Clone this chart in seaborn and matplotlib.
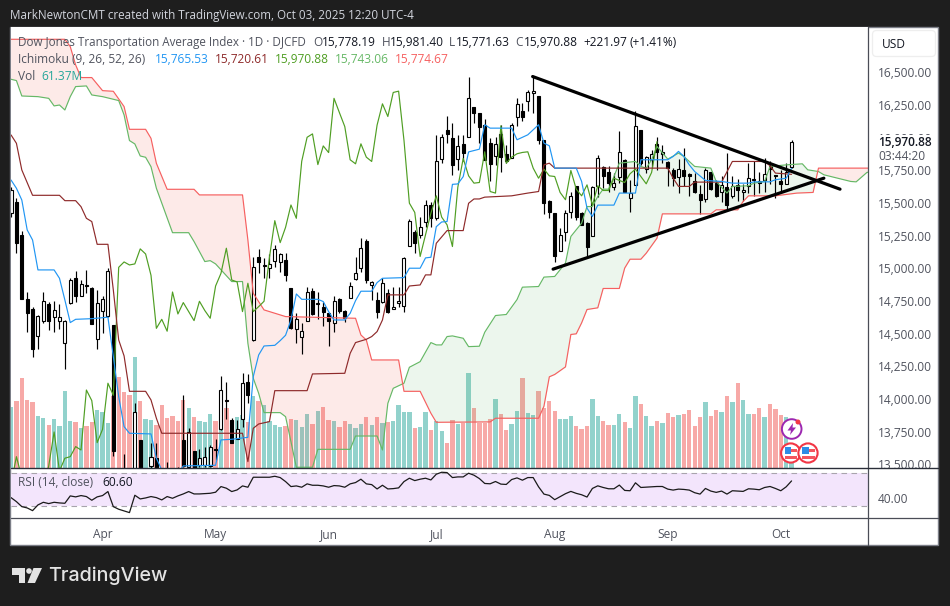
import numpy as np
import pandas as pd
import seaborn as sns
import matplotlib.pyplot as plt
from matplotlib.patches import Circle, FancyBboxPatch, Polygon, Rectangle

# candles, one per trading day
opens = [
    15427, 15511, 15260, 14764, 14688, 14484, 14601, 14729, 14627, 14601,
    14433, 14734, 14925, 14790, 14871, 14851, 14463, 14678, 14637, 14568,
    13440, 13300, 13100, 13100, 13688, 13200, 13489, 13550, 13380, 13300,
    13350, 13400, 13688, 13484, 13601, 13497, 13494, 13489, 13616, 13769,
    13994, 13841, 13698, 13851, 14132, 14453, 15086, 15022, 15000, 15060,
    15053, 15065, 14849, 14535, 14479, 14601, 14826, 14729, 14708, 14657,
    14581, 14764, 14673, 14772, 14917, 15004, 15211, 14871, 14759, 14747,
    14810, 14688, 14739, 14713, 15173, 15282, 15257, 15359, 15486, 15384,
    15841, 16060, 15996, 15836, 15953, 16004, 16234, 16188, 16100, 15959,
    15862, 16031, 15878, 15842, 16158, 16202, 16278, 16342, 16321, 15980,
    15515, 15423, 15133, 15281, 15436, 15633, 15423, 15347, 15245, 15633,
    15776, 15742, 15622, 15699, 15832, 15538, 15638, 16061, 15760, 15832,
    15954, 15873, 15816, 15755, 15699, 15755, 15725, 15666, 15571, 15531,
    15735, 15653, 15589, 15622, 15551, 15638, 15587, 15628, 15684, 15663,
    15679, 15786, 15709, 15666, 15648, 15778.19,
]
highs = [
    15626, 15537, 15285, 14818, 14703, 14644, 14820, 14747, 14754, 14729,
    14606, 14925, 14979, 14912, 14989, 14856, 14836, 14790, 15004, 14568,
    13470, 13581, 13250, 13968, 13688, 13400, 13662, 13662, 13440, 13520,
    13450, 13480, 14032, 13777, 13601, 13616, 13632, 13650, 13693, 14178,
    14132, 13854, 13841, 14198, 14193, 15086, 15147, 15078, 15111, 15180,
    15116, 15122, 14849, 14657, 14581, 14856, 14849, 14823, 14747, 14662,
    14790, 14772, 14683, 14900, 15086, 15231, 15224, 14907, 14823, 14925,
    14846, 14861, 14856, 15086, 15376, 15295, 15397, 15524, 15512, 16022,
    16030, 16167, 16111, 16022, 16022, 16463, 16239, 16188, 16143, 15997,
    16005, 16100, 15947, 16112, 16304, 16265, 16367, 16475, 16321, 15985,
    15526, 15423, 15309, 15444, 15589, 15633, 15429, 15352, 15633, 15870,
    15781, 15786, 15730, 16049, 15837, 15679, 16209, 16061, 15857, 15908,
    16005, 15947, 15819, 15768, 15837, 15921, 15730, 15730, 15640, 15768,
    15742, 15674, 15704, 15883, 15704, 15684, 15648, 15806, 15819, 15735,
    15844, 15819, 15717, 15755, 15806, 15981.40,
]
lows = [
    15397, 15116, 14764, 14517, 14326, 14387, 14581, 14530, 14517, 14540,
    14234, 14729, 14747, 14790, 14815, 14576, 14387, 14504, 14627, 13565,
    13050, 12950, 12700, 13050, 13150, 13050, 13450, 13300, 13150, 13200,
    13250, 13300, 13480, 13470, 13430, 13480, 13480, 13480, 13535, 13764,
    13851, 13662, 13698, 13790, 13974, 14448, 14968, 14925, 14925, 15014,
    14976, 14907, 14535, 14428, 14346, 14601, 14644, 14611, 14560, 14407,
    14517, 14657, 14593, 14772, 14912, 14976, 14892, 14759, 14622, 14739,
    14662, 14688, 14703, 14670, 15173, 15122, 15230, 15315, 15320, 15371,
    15810, 15958, 15716, 15754, 15825, 16004, 16116, 15958, 15832, 15666,
    15793, 15735, 15811, 15842, 16087, 16125, 16209, 16189, 15954, 15418,
    15383, 15046, 15130, 15207, 15385, 15372, 15329, 15092, 15245, 15546,
    15615, 15582, 15602, 15658, 15589, 15436, 15638, 15793, 15730, 15768,
    15750, 15806, 15628, 15628, 15577, 15628, 15551, 15577, 15418, 15505,
    15597, 15546, 15505, 15449, 15538, 15520, 15513, 15577, 15551, 15577,
    15582, 15648, 15541, 15589, 15648, 15771.63,
]
closes = [
    15601, 15193, 14764, 14657, 14382, 14637, 14749, 14601, 14683, 14627,
    14601, 14912, 14790, 14882, 14866, 14576, 14734, 14764, 14984, 13606,
    13120, 13000, 12800, 13902, 13250, 13350, 13560, 13400, 13200, 13250,
    13300, 13320, 13489, 13749, 13450, 13548, 13560, 13637, 13611, 14070,
    13989, 13667, 13769, 14122, 14030, 15009, 15050, 15027, 15035, 15150,
    15111, 14948, 14542, 14611, 14520, 14820, 14652, 14739, 14670, 14601,
    14749, 14678, 14619, 14866, 14963, 15155, 14912, 14897, 14670, 14887,
    14670, 14708, 14749, 15083, 15366, 15198, 15315, 15486, 15384, 15820,
    16004, 16030, 15795, 15938, 15887, 16302, 16193, 16086, 15832, 15801,
    15954, 15852, 15819, 16097, 16260, 16163, 16347, 16357, 15980, 15500,
    15429, 15092, 15258, 15423, 15556, 15393, 15334, 15168, 15622, 15842,
    15709, 15653, 15658, 15893, 15589, 15577, 16092, 15806, 15852, 15878,
    15888, 15893, 15768, 15691, 15760, 15709, 15704, 15582, 15526, 15750,
    15607, 15556, 15640, 15485, 15633, 15597, 15597, 15691, 15674, 15658,
    15725, 15760, 15704, 15648, 15735, 15970.88,
]
volume = [
    73.5, 80.8, 107.9, 81.6, 79.2, 62.2, 59.8, 51.3, 58.6, 50.1,
    92.5, 56.2, 54.9, 47.7, 50.1, 54.9, 69.5, 67.1, 53.7, 86.5,
    109.9, 91.3, 87.7, 134.1, 80.4, 58.6, 57.4, 51.3, 75.6, 59.4,
    62.2, 56.2, 81.6, 71.9, 61.0, 56.2, 54.9, 64.6, 56.2, 56.2,
    71.9, 56.2, 61.4, 63.0, 54.9, 86.5, 80.4, 75.6, 56.2, 51.3,
    49.3, 50.1, 58.6, 57.4, 49.3, 64.6, 52.5, 68.3, 73.1, 57.4,
    56.2, 48.9, 56.2, 52.5, 47.7, 52.5, 61.0, 51.3, 61.0, 53.7,
    54.9, 56.2, 75.6, 67.1, 67.1, 47.7, 48.9, 67.1, 45.2, 55.8,
    44.0, 29.9, 57.4, 52.9, 53.7, 114.3, 72.3, 53.7, 53.7, 59.0,
    83.2, 65.0, 45.7, 52.9, 68.7, 108.7, 66.3, 63.8, 92.9, 72.3,
    80.8, 68.7, 59.0, 59.0, 62.6, 50.5, 46.9, 50.5, 83.2, 62.6,
    56.6, 51.7, 51.7, 65.0, 55.3, 48.1, 86.9, 77.2, 62.6, 50.5,
    56.6, 54.1, 66.3, 61.4, 63.8, 65.0, 69.9, 50.5, 61.4, 79.6,
    62.6, 69.9, 67.5, 86.9, 79.6, 102.6, 82.0, 65.0, 65.0, 72.3,
    61.4, 77.2, 71.1, 63.8, 61.4, 9.7,
]
rsi = [
    40.2, 35.3, 29.2, 27.6, 24.3, 31.3, 34.5, 32.9, 34.5, 33.7,
    33.3, 42.3, 41.1, 42.7, 41.5, 37.0, 41.1, 42.7, 47.6, 29.2,
    26.0, 23.9, 21.9, 43.1, 38.6, 39.8, 41.5, 40.2, 37.4, 41.5,
    39.4, 42.3, 44.7, 47.6, 44.7, 44.7, 45.1, 45.5, 46.8, 53.7,
    51.7, 47.6, 49.6, 54.5, 52.9, 65.1, 65.1, 65.1, 65.1, 66.3,
    64.7, 59.8, 53.7, 54.5, 52.9, 57.0, 55.3, 55.3, 54.5, 52.9,
    54.9, 54.5, 52.9, 57.0, 58.6, 62.7, 57.0, 56.1, 50.8, 55.3,
    50.8, 51.2, 52.1, 59.8, 63.9, 61.0, 62.7, 63.9, 61.8, 68.8,
    71.2, 70.8, 64.7, 65.5, 65.5, 70.0, 67.6, 63.5, 57.5, 57.1,
    59.9, 56.7, 56.3, 62.3, 64.3, 61.5, 64.7, 64.7, 53.4, 44.5,
    42.9, 37.7, 41.3, 45.0, 47.8, 45.4, 43.7, 40.9, 51.4, 54.6,
    52.6, 51.0, 51.0, 55.5, 49.0, 48.6, 58.3, 52.6, 53.0, 53.4,
    53.8, 53.8, 50.6, 49.4, 50.6, 50.2, 49.4, 46.2, 44.5, 51.4,
    48.2, 46.6, 48.2, 44.5, 48.6, 48.2, 47.8, 51.0, 50.6, 49.8,
    52.6, 53.8, 51.4, 48.6, 53.4, 60.6,
]

# ichimoku lines, as the bars where they change direction
tenkan_x = [
    0, 1, 2, 3, 4, 5, 8, 9, 10, 11, 12, 15, 18, 19, 20, 21, 22, 26, 27, 28, 31,
    32, 38, 39, 41, 44, 45, 46, 47, 49, 50, 51, 52, 53, 54, 57, 58, 59, 60, 62,
    63, 64, 65, 67, 68, 69, 73, 74, 76, 77, 78, 79, 80, 81, 82, 83, 84, 85, 87,
    88, 89, 93, 94, 96, 98, 99, 100, 101, 105, 106, 107, 108, 109, 112, 113,
    116, 117, 122, 123, 124, 125, 126, 127, 129, 132, 134, 137, 138, 141, 142,
    144, 145,
]
tenkan_y = [
    15677, 15614, 15524, 15295, 15218, 14989, 14989, 14925, 14759, 14586,
    14611, 14616, 14627, 14326, 14019, 13790, 13739, 13734, 13548, 13458,
    13433, 13489, 13494, 13688, 13693, 13708, 14173, 14338, 14407, 14412,
    14448, 14489, 14606, 14805, 14764, 14764, 14747, 14670, 14606, 14606,
    14657, 14754, 14826, 14826, 14892, 14925, 14930, 15002, 15002, 15081,
    15086, 15320, 15356, 15359, 15644, 15647, 15703, 15892, 15913, 16100,
    16074, 16074, 15985, 16023, 16100, 15959, 15939, 15768, 15768, 15666,
    15462, 15398, 15485, 15485, 15577, 15577, 15832, 15832, 15857, 15896,
    15857, 15793, 15742, 15674, 15666, 15653, 15653, 15663, 15663, 15679,
    15691, 15765.53,
]
kijun_x = [
    0, 1, 2, 4, 9, 10, 12, 13, 14, 15, 16, 18, 19, 20, 21, 22, 25, 26, 27, 28,
    43, 44, 45, 46, 48, 49, 55, 56, 62, 63, 64, 66, 67, 68, 69, 70, 73, 74, 76,
    77, 78, 79, 81, 84, 85, 86, 87, 88, 93, 96, 98, 99, 100, 101, 122, 123,
    124, 126, 127, 132, 134, 140, 141, 142, 145,
]
kijun_y = [
    16022, 15958, 15754, 15560, 15560, 15519, 15519, 15473, 15384, 15359,
    15185, 15185, 14836, 14453, 14331, 14060, 14060, 13994, 13854, 13739,
    13739, 13522, 13777, 13810, 13828, 14065, 14065, 14193, 14198, 14351,
    14433, 14458, 14479, 14517, 14606, 14798, 14798, 14866, 14874, 14951,
    14951, 15193, 15290, 15290, 15499, 15532, 15532, 15546, 15556, 15577,
    15589, 15793, 15806, 15768, 15768, 15691, 15628, 15628, 15661, 15661,
    15819, 15819, 15786, 15730, 15720.61,
]
span_a_x = [
    0, 1, 2, 5, 7, 8, 9, 10, 11, 12, 14, 15, 17, 19, 20, 21, 22, 23, 24, 25,
    26, 27, 30, 33, 34, 36, 37, 38, 41, 43, 44, 45, 46, 47, 50, 51, 52, 53, 56,
    57, 63, 64, 68, 69, 70, 71, 73, 74, 76, 78, 79, 80, 81, 82, 84, 85, 87, 88,
    90, 92, 94, 95, 98, 99, 101, 103, 104, 105, 106, 107, 108, 109, 110, 111,
    112, 113, 116, 117, 118, 119, 120, 122, 124, 125, 127, 130, 131, 133, 134,
    137, 138, 140, 141, 144, 147, 148, 150, 151, 156, 157, 159, 160,
]
span_a_y = [
    16448, 16438, 16320, 16315, 16302, 16244, 16251, 16213, 16315, 16392,
    16397, 16328, 16315, 16295, 16285, 16175, 15979, 15953, 15861, 15851,
    15779, 15614, 15274, 15274, 15206, 15053, 15060, 15035, 14900, 14900,
    14428, 14160, 14045, 13897, 13897, 13866, 13675, 13479, 13479, 13616,
    13616, 13718, 13718, 13611, 13968, 14083, 14122, 14244, 14287, 14433,
    14415, 14415, 14479, 14484, 14466, 14402, 14405, 14512, 14640, 14648,
    14762, 14857, 14862, 14934, 14939, 15041, 15245, 15296, 15347, 15474,
    15474, 15551, 15607, 15607, 15704, 15806, 15819, 15781, 15768, 15832,
    15934, 15837, 15883, 15857, 15781, 15768, 15666, 15577, 15628, 15633,
    15653, 15666, 15781, 15793, 15801, 15755, 15742, 15717, 15666, 15663,
    15735, 15743,
]
span_b_x = [
    0, 10, 11, 12, 13, 15, 17, 19, 21, 22, 25, 26, 27, 29, 34, 35, 43, 44, 45,
    47, 51, 64, 65, 66, 67, 72, 73, 76, 78, 79, 89, 90, 98, 99, 100, 101, 103,
    104, 105, 106, 107, 109, 110, 113, 114, 115, 117, 118, 120, 121, 130, 131,
    135, 136, 137, 142, 146, 149, 150, 170,
]
span_b_y = [
    16754, 16754, 16698, 16558, 16461, 16461, 16361, 16356, 16239, 16065,
    16065, 15996, 15805, 15606, 15606, 15563, 15563, 15218, 14810, 14683,
    14632, 14619, 14491, 14453, 14300, 14300, 14060, 14060, 13892, 13823,
    13826, 13854, 13854, 13946, 14171, 14189, 14247, 14495, 14500, 14584,
    14686, 14699, 14847, 14847, 15003, 15071, 15071, 15117, 15232, 15418,
    15418, 15449, 15449, 15513, 15556, 15556, 15577, 15582, 15768, 15768,
]
# hand drawn triangle on the chart
upper_x = [96.9, 154]
upper_y = [16469, 15607]
lower_x = [100.7, 151]
lower_y = [14995, 15691]

price_ticks = [13500, 13750, 14000, 14250, 14500, 14750, 15000, 15250,
               15500, 15750, 16000, 16250, 16500]
month_bars = [17, 38, 59, 79, 101, 122, 143]
month_names = ["Apr", "May", "Jun", "Jul", "Aug", "Sep", "Oct"]

W, H = 950, 606
BG = "#1e1e1e"
GREY = "#50535e"
BLUE = "#2196f3"
DARK_RED = "#8e2a2a"
OLIVE = "#4f9e23"
GREEN = "#66b866"
RED = "#f66060"
TEAL = "#26a69a"
VOL_UP = "#92d2cc"
VOL_DOWN = "#f7a9a7"


def rect(l, t, r, b):
    return [l / W, 1 - b / H, (r - l) / W, (b - t) / H]


def label(x, y, s, color=GREY, size=8.6, **kw):
    top.text(x, y, s, color=color, fontsize=size, va="center", **kw)


sns.set_theme(style="white")
plt.rcParams["font.family"] = ["Open Sans", "DejaVu Sans"]

df = pd.DataFrame({"open": opens, "high": highs, "low": lows, "close": closes,
                   "volume": volume, "rsi": rsi})
df["bar"] = df.index
df["up"] = df["close"] >= df["open"]
# lagging span is the close moved back, 25 bars on this chart
df["chikou"] = df["close"].shift(-25)

fig = plt.figure(figsize=(W / 100, H / 100), dpi=100, facecolor=BG)

back = fig.add_axes([0, 0, 1, 1], zorder=0)
back.set_xlim(0, W)
back.set_ylim(H, 0)
back.axis("off")
back.add_patch(Rectangle((10, 27), 928, 518, fc="white", ec="#7b7e87", lw=1))

vol_ax = fig.add_axes(rect(10.5, 27, 868, 467.5), zorder=1)
ax = vol_ax.twinx()
ax.set_zorder(2)
ax.patch.set_visible(False)

# volume sits under everything, coloured bar by bar after the call
sns.barplot(data=df, x="bar", y="volume", native_scale=True, width=0.8, color=VOL_UP,
            saturation=1, ax=vol_ax)
for patch, up in zip(vol_ax.patches, df["up"]):
    patch.set_facecolor(VOL_UP if up else VOL_DOWN)
    patch.set_linewidth(0)
vol_ax.set_ylim(0, 533)
vol_ax.set_yticks([])
vol_ax.set_xlabel("")
vol_ax.set_ylabel("")
vol_ax.tick_params(bottom=False, labelbottom=False)

# cloud
grid = np.arange(0, 170.25, 0.25)
a = np.interp(grid, span_a_x, span_a_y)
b = np.interp(grid, span_b_x, span_b_y)
ax.fill_between(grid, a, b, where=a >= b, color="#4caf50", alpha=0.10, lw=0, interpolate=True, zorder=1)
ax.fill_between(grid, a, b, where=a < b, color="#f44336", alpha=0.11, lw=0, interpolate=True, zorder=1)

# candles
ax.vlines(df["bar"], df["low"], df["high"], color="black", lw=0.85, zorder=2)
ax.bar(df["bar"], (df["close"] - df["open"]).abs().clip(lower=8), bottom=df[["open", "close"]].min(axis=1),
       width=0.56, color=["white" if u else "black" for u in df["up"]], edgecolor="black", lw=0.8, zorder=3)

for xs, ys, col in [(span_a_x, span_a_y, GREEN), (span_b_x, span_b_y, RED),
                    (df["bar"], df["chikou"], OLIVE),
                    (kijun_x, kijun_y, DARK_RED), (tenkan_x, tenkan_y, BLUE)]:
    sns.lineplot(x=xs, y=ys, color=col, lw=0.85, estimator=None, sort=False, ax=ax, zorder=4)

sns.lineplot(x=upper_x, y=upper_y, color="black", lw=2.3, estimator=None, ax=ax, zorder=5)
sns.lineplot(x=lower_x, y=lower_y, color="black", lw=2.3, estimator=None, ax=ax, zorder=5)

ax.set_xlim(-0.1, 159.2)
ax.set_ylim(13477, 16848)
ax.set_yticks(price_ticks)
ax.set_yticklabels([f"{t:,.2f}" for t in price_ticks], color=GREY, fontsize=8.6)
ax.tick_params(axis="y", length=0, pad=7)
ax.set_xlabel("")
ax.set_ylabel("")
for a_ in (ax, vol_ax):
    for s in a_.spines.values():
        s.set_visible(False)

# rsi pane
rsi_ax = fig.add_axes(rect(10.5, 467.5, 868, 518), zorder=3)
rsi_ax.patch.set_visible(False)
rsi_ax.axhspan(30, 70, color="#f3e5fc", lw=0)
rsi_ax.axhline(70, color="#a8a4ac", lw=0.8, ls=(0, (5, 4)))
rsi_ax.axhline(30, color="#a8a4ac", lw=0.8, ls=(0, (5, 4)))
sns.lineplot(data=df, x="bar", y="rsi", color="#1a1a1a", lw=0.9, estimator=None, ax=rsi_ax)
rsi_ax.set_xlim(-0.1, 159.2)
rsi_ax.set_ylim(15.3, 77)
rsi_ax.yaxis.tick_right()
rsi_ax.set_yticks([40])
rsi_ax.set_yticklabels(["40.00"], color=GREY, fontsize=8.6)
rsi_ax.tick_params(axis="y", length=0, pad=7)
rsi_ax.set_xticks(month_bars)
rsi_ax.set_xticklabels(month_names, color=GREY, fontsize=8.6)
rsi_ax.tick_params(axis="x", length=0, pad=7)
rsi_ax.set_xlabel("")
rsi_ax.set_ylabel("")
for s in rsi_ax.spines.values():
    s.set_visible(False)

# overlay in figure pixels for the frame, badges and logo
top = fig.add_axes([0, 0, 1, 1], zorder=4)
top.set_xlim(0, W)
top.set_ylim(H, 0)
top.axis("off")
top.add_patch(Rectangle((869, 468), 68, 7, fc="white", ec="none"))
top.add_patch(Rectangle((869, 135), 68, 28, fc="white", ec="none"))
top.plot([868.3, 868.3], [27, 545], color="#4a4d57", lw=0.9)
top.plot([10.5, 938], [467.5, 467.5], color="#2a2e39", lw=1)
top.plot([10.5, 938], [518, 518], color="#4a4d57", lw=0.9)
top.add_patch(FancyBboxPatch((874, 32), 60, 23, boxstyle="round,pad=1.5,rounding_size=4",
                             fc="white", ec="#eeeeee", lw=0.9))

# event badges
top.add_patch(Circle((791.7, 429), 9.8, fc="white", ec="#9c27b0", lw=1.4))
top.add_patch(Polygon([(793, 423), (787.5, 430.5), (791, 430.5), (790, 435), (796, 427.5), (792.5, 427.5)],
                      fc="#9c27b0", ec="none"))
top.add_patch(Circle((798, 422), 2.5, fc="#f23645", ec="none"))
for cx in (790.7, 808):
    top.add_patch(Circle((cx, 453), 9.6, fc="white", ec="#f23645", lw=1.5))
    top.add_patch(Rectangle((cx - 6, 447), 6.5, 6.5, fc="#2e8ce6", ec="none"))
    top.add_patch(Rectangle((cx + 0.5, 449), 6, 3, fc="#f4565f", ec="none"))
    top.add_patch(Rectangle((cx - 6, 456), 12.5, 2.6, fc="#f4565f", ec="none"))

# logo mark
top.add_patch(Polygon([(12, 568), (25, 568), (25, 583), (19, 583), (19, 575), (12, 575)], fc="#e3e3e3", ec="none"))
top.add_patch(Circle((29, 571), 2.8, fc="#e3e3e3", ec="none"))
top.add_patch(Polygon([(33.5, 568), (42, 568), (35, 583), (27.5, 583)], fc="#e3e3e3", ec="none"))

label(10, 15, "MarkNewtonCMT created with TradingView.com, Oct 03, 2025 12:20 UTC-4", color="#d1d4dc", size=8.4)
label(48, 576, "TradingView", color="#e3e3e3", size=14.2, fontfamily="Inter", fontweight="medium")

label(18, 42.5, "Dow Jones Transportation Average Index · 1D · DJCFD", size=8.4)
for x, s in [(313, "O"), (382, "H"), (449, "L"), (515, "C")]:
    label(x, 42.5, s)
for x, s in [(322, "15,778.19"), (390, "15,981.40"), (456, "15,771.63"), (524, "15,970.88"),
             (583, "+221.97"), (629, "(+1.41%)")]:
    label(x, 42.5, s, color="#131722")

label(18, 59.5, "Ichimoku (9, 26, 52, 26)")
for x, s, c in [(155, "15,765.53", BLUE), (215, "15,720.61", DARK_RED), (275, "15,970.88", OLIVE),
                (335, "15,743.06", GREEN), (395, "15,774.67", RED)]:
    label(x, 59.5, s, color=c)
label(18, 76.5, "Vol")
label(41, 76.5, "61.37M", color=TEAL)
label(18, 483, "RSI (14, close)")
label(102, 483, "60.60", color="#131722")

label(882, 44, "USD", color="#131722")
label(878, 142, "15,970.88", color="#131722", fontweight="semibold")
label(878, 156, "03:44:20")

fig.savefig("out.png", dpi=100, facecolor=BG)
